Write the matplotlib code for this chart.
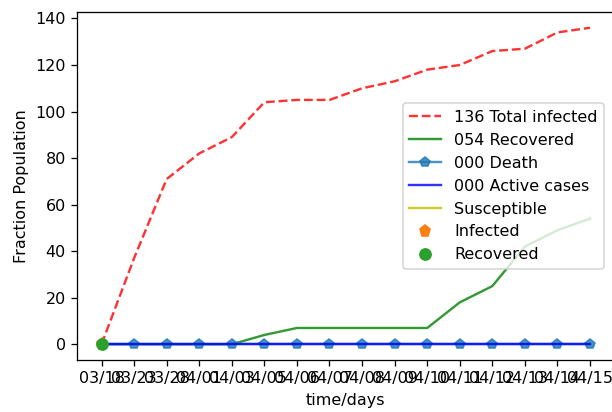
import matplotlib
matplotlib.use("Agg")
import matplotlib.pyplot as plt

dates = ["03/18", "03/23", "03/28", "04/01", "04/03", "04/05", "04/06", "04/07",
         "04/08", "04/09", "04/10", "04/11", "04/12", "04/13", "04/14", "04/15"]
total_infected = [0, 37, 71, 82, 89, 104, 105, 105, 110, 113, 118, 120, 126, 127, 134, 136]
recovered = [0, 0, 0, 0, 0, 4, 7, 7, 7, 7, 7, 18, 25, 42, 49, 54]
death = [0] * 16
active = [0] * 16
susceptible = []

DPI = 115
fig = plt.figure(figsize=(612 / DPI, 412 / DPI), dpi=DPI)
ax = fig.add_axes([0.126, 0.126, 0.878, 0.845])
x = list(range(len(dates)))
ax.plot(x, total_infected, 'r--', alpha=0.8, label='136 Total infected')
ax.plot(x, recovered, 'g', alpha=0.8, label='054 Recovered')
ax.plot(x, death, color='C0', marker='p', alpha=0.8, label='000 Death')
ax.plot(x, active, 'b', alpha=0.8, label='000 Active cases')
ax.plot(susceptible, susceptible, 'y', alpha=0.8, label='Susceptible')
ax.plot([0], [0], 'p', color='C1', markersize=7, label='Infected')
ax.plot([0], [0], 'o', color='C2', markersize=7, label='Recovered')
ax.set_xticks(x)
ax.set_xticklabels(dates)
ax.set_xlabel('time/days')
ax.set_ylabel('Fraction Population')
ax.legend(loc='center right', bbox_to_anchor=(0.995, 0.5))
fig.savefig('out.png', dpi=DPI)
